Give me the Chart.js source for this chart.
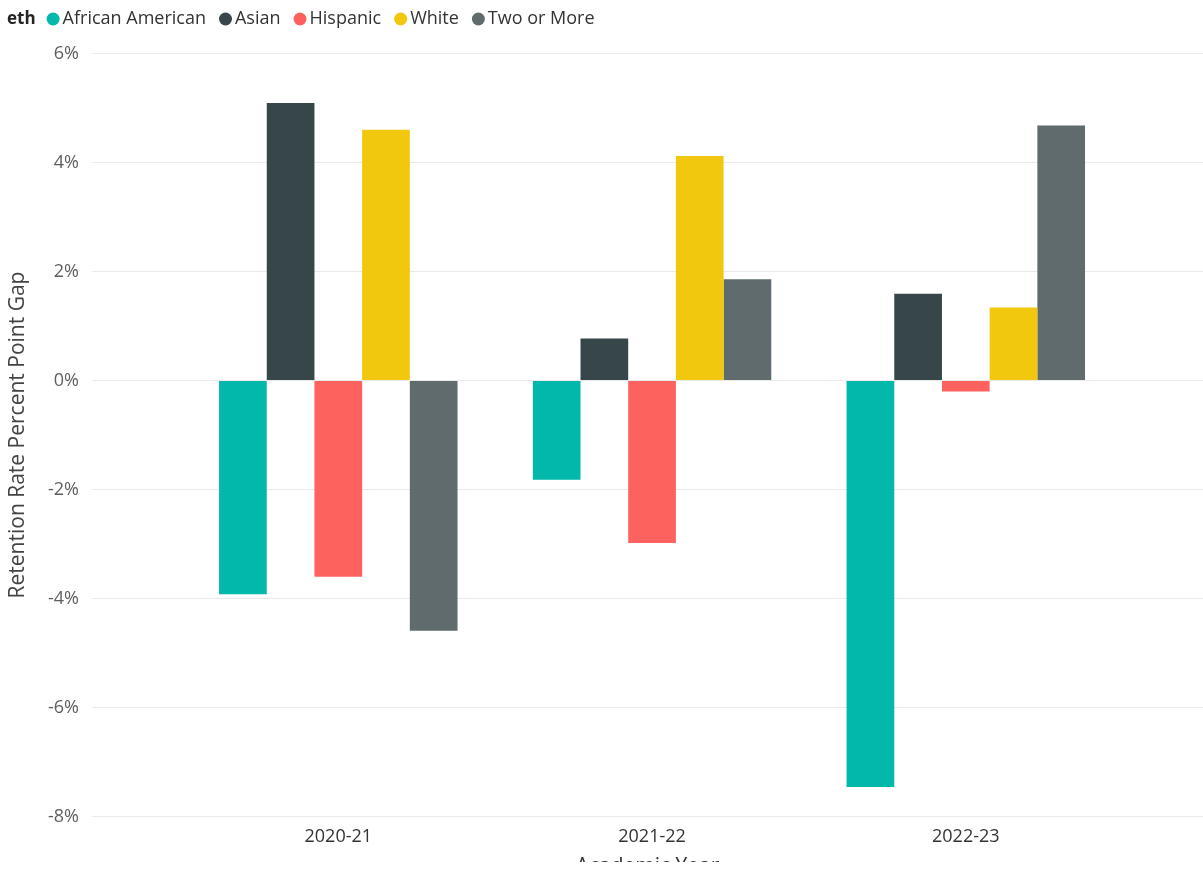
<!DOCTYPE html>
<html>
<head>
<meta charset="utf-8">
<script src="https://cdn.jsdelivr.net/npm/chart.js@4.4.0/dist/chart.umd.min.js"></script>
<style>
html, body { margin: 0; padding: 0; background: #fff; overflow: hidden; }
#wrap { width: 1203px; height: 862px; overflow: hidden; }
</style>
</head>
<body>
<div id="wrap"><canvas id="myChart" width="1203" height="882"></canvas></div>
<script>
// data (percent point gap)
var years = ['2020-21', '2021-22', '2022-23'];
var groups = ['African American', 'Asian', 'Hispanic', 'White', 'Two or More'];
var africanAmerican = [-3.92, -1.82, -7.46];
var asian = [5.09, 0.77, 1.59];
var hispanic = [-3.60, -2.98, -0.20];
var white = [4.60, 4.12, 1.34];
var twoOrMore = [-4.59, 1.86, 4.68];
var yTicks = [-8, -6, -4, -2, 0, 2, 4, 6];

var colors = ['#01B8AA', '#374649', '#FD625E', '#F2C80F', '#5F6B6D'];
var series = [africanAmerican, asian, hispanic, white, twoOrMore];

function points(vals) {
    return vals.map(function (v, i) { return { x: i + 1, y: v }; });
}

// legend drawn inline with the "eth" field name, like Power BI
var ethLegend = {
    id: 'ethLegend',
    afterDraw: function (chart) {
        var c = chart.ctx;
        c.save();
        c.textBaseline = 'middle';
        var y = 19, x = 7;
        c.font = 'bold 17px "Open Sans"';
        c.fillStyle = '#252423';
        c.fillText('eth', x, y);
        x += c.measureText('eth').width + 11;
        c.font = '18px "Open Sans"';
        chart.data.datasets.forEach(function (ds) {
            c.fillStyle = ds.backgroundColor;
            c.beginPath();
            c.arc(x + 6.5, y, 6.5, 0, Math.PI * 2);
            c.fill();
            x += 16;
            c.fillStyle = '#333333';
            c.fillText(ds.label, x, y);
            x += c.measureText(ds.label).width + 13;
        });
        c.restore();
    }
};

var ctx = document.getElementById('myChart').getContext('2d');
var myChart = new Chart(ctx, {
    type: 'bar',
    data: {
        datasets: groups.map(function (g, i) {
            return {
                label: g,
                data: points(series[i]),
                backgroundColor: colors[i],
                borderWidth: 0,
                barPercentage: 1,
                categoryPercentage: 0.76
            };
        })
    },
    options: {
        responsive: false,
        animation: false,
        layout: { padding: { top: 53.5, left: 0, right: 0, bottom: 0 } },
        plugins: {
            legend: { display: false },
            tooltip: { enabled: false }
        },
        scales: {
            x: {
                type: 'linear',
                min: 0.215,
                max: 3.756,
                offset: false,
                grid: { display: false, drawTicks: false },
                border: { display: false },
                afterBuildTicks: function (s) {
                    s.ticks = years.map(function (y, i) { return { value: i + 1 }; });
                },
                afterFit: function (s) { s.height = 65.5; },
                ticks: {
                    padding: 10,
                    autoSkip: false,
                    maxRotation: 0,
                    color: '#333333',
                    font: { family: '"Open Sans"', size: 18 },
                    callback: function (v) { return years[Math.round(v) - 1]; }
                },
                title: {
                    display: true,
                    text: 'Academic Year',
                    color: '#333333',
                    font: { family: '"Open Sans"', size: 21 },
                    padding: { top: 0, bottom: 2 }
                }
            },
            y: {
                min: -8,
                max: 6,
                grid: { color: '#EAEAEA', lineWidth: 1, drawTicks: false },
                border: { display: false },
                afterBuildTicks: function (s) {
                    s.ticks = yTicks.map(function (v) { return { value: v }; });
                },
                afterFit: function (s) { s.width = 92; },
                ticks: {
                    padding: 13,
                    color: '#605E5C',
                    font: { family: '"Open Sans"', size: 18 },
                    callback: function (v) { return v + '%'; }
                },
                title: {
                    display: true,
                    text: 'Retention Rate Percent Point Gap',
                    color: '#444444',
                    font: { family: '"Open Sans"', size: 21 },
                    padding: { top: 5, bottom: 0 }
                }
            }
        }
    },
    plugins: [ethLegend]
});
</script>
</body>
</html>
